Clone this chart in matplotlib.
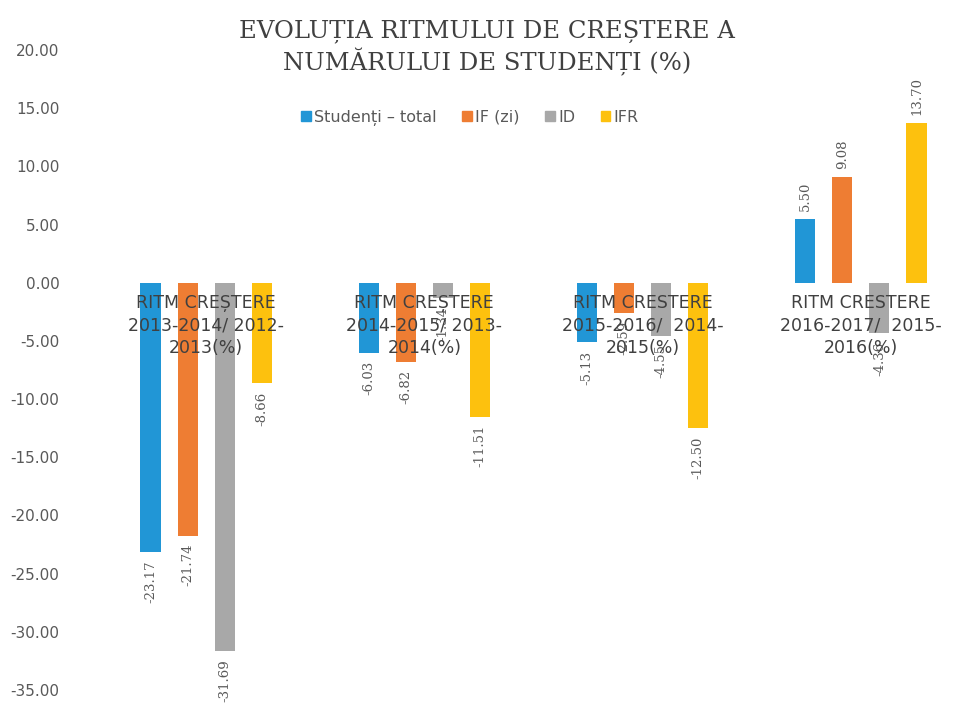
import matplotlib
matplotlib.use("Agg")
import matplotlib.pyplot as plt
import numpy as np
from matplotlib.patches import Patch

# ---- data -----------------------------------------------------------------
categories = [
    "RITM CREȘTERE\n2013-2014/ 2012-\n2013(%)",
    "RITM CREȘTERE\n2014-2015/ 2013-\n2014(%)",
    "RITM CRESTERE\n2015-2016/  2014-\n2015(%)",
    "RITM CRESTERE\n2016-2017/  2015-\n2016(%)",
]
series_names = ["Studenți – total", "IF (zi)", "ID", "IFR"]
studenti_total = [-23.17, -6.03, -5.13, 5.50]
if_zi = [-21.74, -6.82, -2.59, 9.08]
id_vals = [-31.69, -1.34, -4.55, -4.36]
ifr = [-8.66, -11.51, -12.50, 13.70]
colors = ["#2196d6", "#ee7d33", "#a8a8a8", "#fdc10e"]

title = "EVOLUȚIA RITMULUI DE CREȘTERE A\nNUMĂRULUI DE STUDENȚI (%)"

series = [studenti_total, if_zi, id_vals, ifr]
TXT = "#595959"

fig = plt.figure(figsize=(9.65, 7.09), dpi=100)
ax = fig.add_axes([97 / 965, 1 - 690 / 709, 873 / 965, 640 / 709])

x = np.arange(len(categories))
pitch, width = 0.17, 0.092
for k, (vals, col) in enumerate(zip(series, colors)):
    xs = x + (k - 1.5) * pitch
    ax.bar(xs, vals, width=width, color=col, label=series_names[k], zorder=2)
    for xi, v in zip(xs, vals):
        off = 0.7 if v >= 0 else -0.7
        ax.text(xi, v + off, f"{v:.2f}", rotation=90, ha="center",
                va="bottom" if v >= 0 else "top", fontsize=9.5, color=TXT,
                family="DejaVu Serif", zorder=3)

# category labels sit just under the zero line, over the bars (Excel style)
for xi, lab in zip(x, categories):
    ax.text(xi, -1.0, lab, ha="center", va="top", fontsize=12.5, color="#404040",
            linespacing=1.3, zorder=4)

ax.set_xlim(-0.5, 3.5)
ax.set_ylim(-35, 20)
ax.set_yticks(np.arange(-35, 20.1, 5))
ax.set_yticklabels([f"{t:.2f}" for t in np.arange(-35, 20.1, 5)])
ax.tick_params(axis="y", length=0, labelsize=11, labelcolor=TXT, pad=27)
ax.set_xticks([])
for s in ax.spines.values():
    s.set_visible(False)

fig.text(0.505, 0.972, title, ha="center", va="top", fontsize=17.5,
         family="DejaVu Serif", color="#404040", linespacing=1.2)

handles = [Patch(color=c) for c in colors]
fig.legend(handles, series_names, loc="center", bbox_to_anchor=(0.487, 1 - 118 / 709),
           ncol=4, frameon=False, fontsize=11.5, handlelength=0.6, handleheight=0.6,
           handletextpad=0.2, columnspacing=1.6, labelcolor=TXT)

fig.savefig("out.png", dpi=100)
